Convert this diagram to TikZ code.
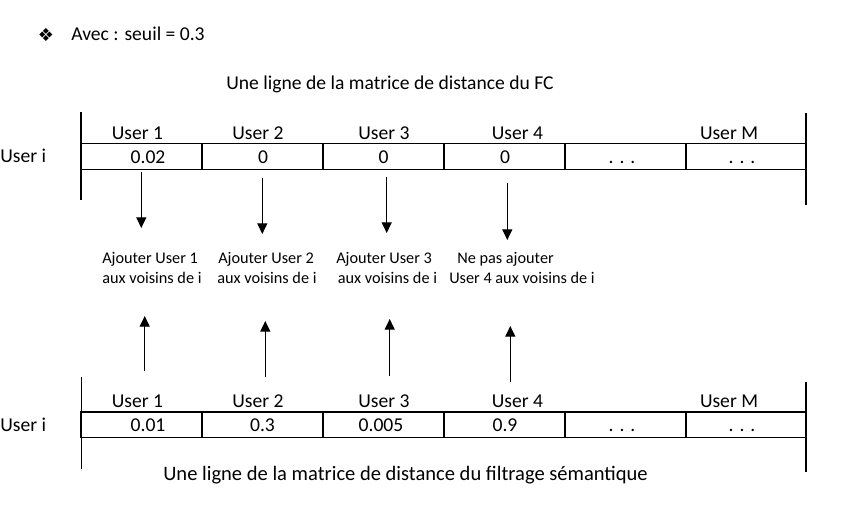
\documentclass[tikz,border=0pt]{standalone}
\usepackage{fontspec}
\setmainfont{Carlito}
\newfontfamily\symfont{DejaVu Sans}
\usetikzlibrary{arrows.meta}
\begin{document}
\begin{tikzpicture}[x=0.75pt,y=-0.75pt,
  tbl/.style={line width=0.8pt},
  txt/.style={font=\fontsize{14.7}{17}\selectfont, inner sep=0pt, anchor=base},
  mid/.style={font=\fontsize{12.2}{14}\selectfont, inner sep=0pt, anchor=base west},
  arr/.style={line width=0.9pt, -{Triangle[width=7.5pt,length=8pt]}},
  cellbox/.style={draw, line width=0.8pt, minimum width=90.75pt, minimum height=19.2pt, inner sep=0pt}]
\useasboundingbox (0,0) rectangle (857,504);

% heading
\node[inner sep=0pt, font=\symfont\fontsize{13.5}{14}\selectfont] (bul) at (46,35) {❖};
\node[txt, anchor=base west] (avec) at (71,40) {Avec : seuil = 0.3};

% top table
\node[txt] (captop) at (390,89.3) {Une ligne de la matrice de distance du FC};
\draw[tbl] (81,112) coordinate (tl1) -- (81,200) coordinate (tl2);
\draw[tbl] (806,113) coordinate (tr1) -- (806,205) coordinate (tr2);
\foreach \i/\x in {1/141.5,2/262.5,3/383.5,4/504.5,5/625.5,6/746}
  \node[cellbox] (tc\i) at (\x,156.3) {};
\node[txt] (th1) at (137.5,139.3) {User 1};
\node[txt] (th2) at (258,139.3) {User 2};
\node[txt] (th3) at (384,139.3) {User 3};
\node[txt] (th4) at (517.5,139.3) {User 4};
\node[txt] (thm) at (729,139.3) {User M};
\node[txt] (tv1) at (148,163) {0.02};
\node[txt] (tv2) at (263,163) {0};
\node[txt] (tv3) at (383.5,163) {0};
\node[txt] (tv4) at (505,163) {0};
\node[txt] (tv5) at (622,163) {. . .};
\node[txt] (tv6) at (742,163) {. . .};
\node[txt, anchor=base west] (tui) at (0,162.7) {User i};

% middle texts
\node[mid] (a1a) at (102,263.3) {Ajouter User 1};
\node[mid] (a1b) at (102,283.3) {aux voisins de i};
\node[mid] (a2a) at (218,263.3) {Ajouter User 2};
\node[mid] (a2b) at (217,283.3) {aux voisins de i};
\node[mid] (a3a) at (336,263.3) {Ajouter User 3};
\node[mid] (a3b) at (337.5,283.3) {aux voisins de i};
\node[mid] (a4a) at (457,263.3) {Ne pas ajouter};
\node[mid] (a4b) at (449,283.3) {User 4 aux voisins de i};

% down arrows
\coordinate (d1s) at (141.3,172); \coordinate (d1e) at (141.3,228);
\coordinate (d2s) at (262.3,178); \coordinate (d2e) at (262.3,234);
\coordinate (d3s) at (386.7,177); \coordinate (d3e) at (386.7,233);
\coordinate (d4s) at (507.3,183); \coordinate (d4e) at (507.3,240);
\foreach \i in {1,2,3,4} \draw[arr] (d\i s) -- (d\i e);

% up arrows
\coordinate (u1s) at (144.7,371); \coordinate (u1e) at (144.7,316);
\coordinate (u2s) at (265.3,377); \coordinate (u2e) at (265.3,321);
\coordinate (u3s) at (389.7,376); \coordinate (u3e) at (389.7,319);
\coordinate (u4s) at (510.3,382); \coordinate (u4e) at (510.3,326);
\foreach \i in {1,2,3,4} \draw[arr] (u\i s) -- (u\i e);

% bottom table
\draw[tbl] (81.5,377) coordinate (bl1) -- (81.5,469) coordinate (bl2);
\draw[tbl] (806,382) coordinate (br1) -- (806,472) coordinate (br2);
\foreach \i/\x in {1/141.5,2/262.5,3/383.5,4/504.5,5/625.5,6/746}
  \node[cellbox] (bc\i) at (\x,424.8) {};
\node[txt] (bh1) at (137.5,407.3) {User 1};
\node[txt] (bh2) at (258,407.3) {User 2};
\node[txt] (bh3) at (384,407.3) {User 3};
\node[txt] (bh4) at (517.5,407.3) {User 4};
\node[txt] (bhm) at (729,407.3) {User M};
\node[txt] (bv1) at (148,431.7) {0.01};
\node[txt] (bv2) at (262.5,431.7) {0.3};
\node[txt] (bv3) at (381,431.7) {0.005};
\node[txt] (bv4) at (505,431.7) {0.9};
\node[txt] (bv5) at (622,431.7) {. . .};
\node[txt] (bv6) at (742,431.7) {. . .};
\node[txt, anchor=base west] (bui) at (0,431.7) {User i};
\node[txt, font=\fontsize{15.4}{18}\selectfont] (capbot) at (405.5,480) {Une ligne de la matrice de distance du filtrage sémantique};
\end{tikzpicture}
\end{document}
